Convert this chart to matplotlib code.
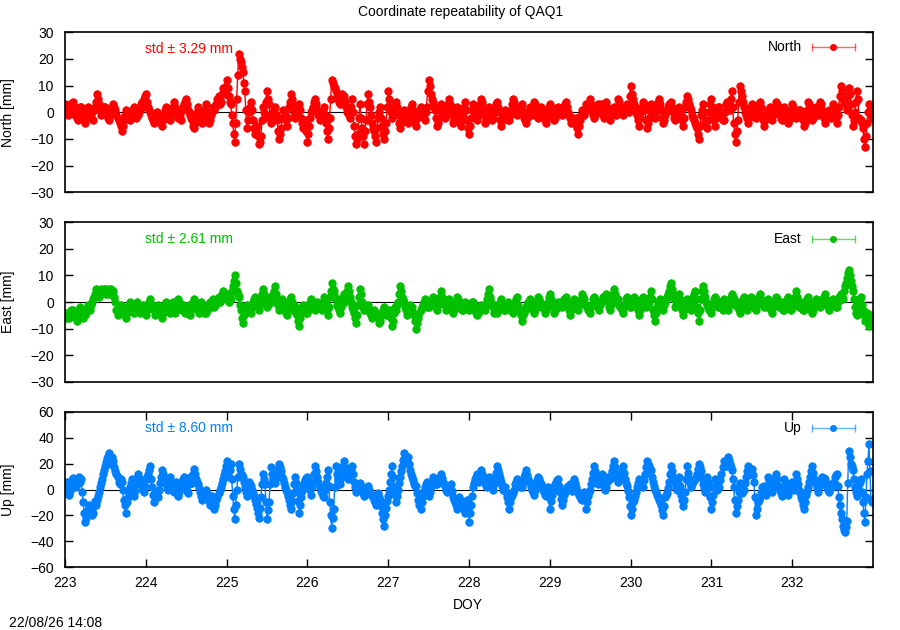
import matplotlib
matplotlib.use("Agg")
import matplotlib.pyplot as plt
import numpy as np

plt.rcParams['font.family'] = ['Liberation Sans', 'DejaVu Sans']

# coordinate residuals [mm] (one line = half a day)
# main samples every 0.025 day from DOY 223.000
north = [
    3, 0, 1, 2, 4, -1, -2, 1, 2, -2, -4, 0, 1, -1, -3, 2, 7, 3, -1, 1,
    2, -1, -3, 0, 3, 1, -2, -4, -7, -3, 1, -1, -3, 0, 2, -2, -1, 1, 4, 5,
    7, 2, 0, -2, -4, -1, -1, -3, -5, -1, 2, 0, -3, 1, 4, 0, -2, -1, 1, 3,
    5, 1, -1, -3, -6, -2, 2, 0, -4, -1, 3, -2, -3, 0, 1, 3, 6, 4, 9, 7,
    12, 6, 3, -4, -11, 5, 22, 19, 15, 8, -6, 0, 4, -3, -8, -5, -12, -9, 2, -2,
    8, 3, -4, 0, 2, -3, -10, -6, 1, -1, -5, 2, 7, 3, -2, 0, 3, -2, -6, -3,
    -11, -5, 0, 2, 5, 1, -3, -1, 2, -4, -10, -2, 12, 10, 8, 5, 3, 7, 6, 2,
    1, -2, 5, -5, -12, -8, 3, -6, -12, -3, 7, 2, -4, -7, -11, -2, 2, -5, -10, -4,
    8, 2, -2, 1, 4, -1, -6, -2, 1, -1, -4, 0, 3, -2, -5, 0, 2, -1, -3, 2,
    12, 7, 4, 1, -5, -2, 3, 0, -2, 1, 5, 2, -4, -1, 2, -2, -5, 0, 4, -3,
    -8, -2, 3, 0, -3, 1, 5, 2, -4, -1, 2, -2, -2, 1, 4, 0, -5, -1, 1, -2,
    -3, 1, 5, 2, -1, 0, 3, -2, -4, 0, 2, -1, 4, 1, -2, 0, 1, -2, -4, 0,
    3, 0, -3, -1, 2, 1, -1, 2, 4, 0, -2, -3, -4, -2, -8, -3, 1, -1, 3, 1,
    5, 1, -2, 0, 3, 2, 0, -2, 4, 1, -3, 0, 2, -1, 5, 2, -1, 1, 3, 0,
    10, 5, 2, -1, -5, 0, 4, 1, -6, -2, 3, 0, -2, 2, 5, 1, -4, -1, 1, 3,
    4, 0, -3, 1, 2, -1, -5, 2, 6, 3, 1, -2, -4, -6, -10, -1, 3, -3, -6, 0,
    5, -1, -5, 1, 2, -2, -3, 3, 4, 1, 8, -4, -11, -3, 10, 6, 2, -1, -4, 0,
    3, 0, -2, 1, 4, -1, -5, -2, 1, 2, -3, 0, 4, 1, -1, -3, 2, 0, -4, -1,
    3, 1, -2, 0, 1, -1, -5, -2, 4, 2, -3, 0, 2, -1, 4, 1, -4, -1, 1, -2,
    3, 0, -4, 2, 10, 5, 6, 1, 9, 3, -5, 0, 8, -2, -3, -6, -13, -4, 3, -1,
]
# in-between samples (0.0125 day after each main sample)
north_mid = [
    2, -1, 3, 1, 2, 0, -3, 2, 0, -3, -2, 2, -1, 0, 1, 4, 5, 1, 0, 2,
    0, -2, -1, 2, 2, -1, -3, -5, -5, -1, 0, -2, -1, 1, 0, -1, 0, 3, 2, 6,
    4, 1, -1, -3, -2, 0, -2, -4, -3, 1, 1, -2, -1, 2, 2, -1, 0, -3, 2, 4,
    3, 0, -2, -5, -4, 0, 1, -2, -3, 1, 0, -4, -1, 2, 2, 5, 3, 7, 8, 10,
    9, 4, -1, -8, -4, 14, 20, 17, 11, 1, -3, 2, 1, -6, -7, -9, -11, -3, 0, 4,
    5, -1, -2, 1, -1, -7, -8, -2, 0, -3, -2, 4, 5, 0, -1, 2, 1, -4, -5, -7,
    -8, -2, 1, 4, 3, -1, -2, 1, -1, -7, -6, 5, 11, 9, 6, 4, 5, 6, 4, 0,
    -1, 2, 0, -9, -10, -2, -2, -9, -7, 3, 4, -1, -6, -9, -6, 0, -2, -8, -7, 2,
    5, 0, -1, 3, 2, -4, -4, 0, 0, -3, -2, 2, 1, -4, -2, 1, 0, -2, 0, 8,
    10, 5, 2, -2, -4, 1, 2, -1, 0, 3, 3, -1, -3, 1, 0, -4, -2, 2, 1, -6,
    -5, 1, 2, -2, -1, 3, 4, -1, -3, 1, 0, -3, 0, 3, 2, -3, -3, 0, -1, -3,
    -1, 3, 4, 0, 1, 2, 0, -3, -2, 1, 0, 2, 3, -1, -1, 2, -1, -3, -2, 2,
    2, -2, -2, 1, 0, 0, 1, 3, 2, -1, -4, -2, -3, -6, -5, -1, 0, 1, 2, 3,
    3, -1, -1, 2, 1, 3, -1, 1, 2, -2, -1, 1, 0, 2, 4, 0, 0, 2, 1, 6,
    7, 3, 0, -3, -2, 2, 3, -3, -4, 1, 2, -1, 0, 4, 3, -2, -3, 0, 2, 2,
    2, -2, -1, 0, 1, -3, -2, 4, 5, 2, -1, -3, -5, -8, -5, 1, 0, -5, -3, 3,
    2, -3, -2, 2, 0, -3, 0, 4, 2, 5, 2, -8, -7, 4, 8, 4, 0, -2, -2, 2,
    1, -1, 0, 3, 2, -3, -3, 0, 1, -1, -1, 2, 3, 0, -2, 0, 1, -2, -3, 1,
    2, -1, -1, 1, 0, -3, -4, 1, 3, 0, -2, 1, 0, 2, 3, -2, -2, 0, -1, 1,
    1, -2, -1, 6, 8, 4, 3, 6, 7, -1, -3, 4, 5, -3, -4, -10, -9, 0, 1, -2,
]
east = [
    -4, -5, -6, -3, -3, -5, -7, -4, -3, -6, -5, -3, -2, -1, 1, 3, 4, 2, 5, 4,
    5, 4, 3, 5, 4, 0, -5, -3, -2, -4, -6, -2, 0, -3, -4, -1, -1, -4, -3, -2,
    -5, -2, 1, -1, -3, -4, -1, -2, -6, -3, 0, -2, -4, -1, -2, -3, 1, -1, -3, -2,
    -2, -3, -5, -2, 1, -1, -3, -2, -1, -4, -4, -2, 0, -1, -2, 0, 2, 1, 4, 2,
    3, 0, 1, 6, 10, 4, 2, -3, -8, -4, -1, -2, -4, 0, 2, -1, -3, 1, 5, 2,
    -2, 0, 1, 3, 6, 1, -3, -1, 0, -2, -5, -1, 2, -3, -2, -5, -9, -3, -1, -2,
    -4, -2, 1, -1, -3, 0, -1, -3, 2, 0, -5, 2, 7, 4, 1, -2, -4, 0, 3, 1,
    6, 2, -2, -4, -8, -1, 5, 0, -3, -2, -1, -4, -6, -3, -4, -6, -7, -4, -2, -5,
    -5, -3, -9, -4, -3, 0, 6, 2, 0, -3, -4, -1, -2, -5, -10, -6, -3, -1, 1, -2,
    -2, 0, 2, -1, -3, 1, 4, 1, -1, -2, 1, -1, -4, -2, 2, 0, -2, -3, 0, -1,
    -3, -1, 0, -2, -5, -3, -1, -2, -3, 1, 5, 0, -2, -3, -4, -1, 1, -2, -3, -1,
    -1, -2, -4, 0, 2, -3, -7, -4, -2, 0, 1, -1, -4, -2, 2, 0, -1, -2, -3, 0,
    3, 0, -4, -2, 0, -1, -2, 1, 2, -1, -5, -2, 1, -1, -3, 0, 3, 1, -1, -3,
    -4, -1, 2, 0, -2, -1, 0, 1, 3, 0, -3, 2, 5, 1, 1, -2, -4, -1, 2, 0,
    -2, 0, 1, -2, -5, -1, 2, 0, -1, 1, 4, -3, -7, -2, 0, -1, -3, 0, 2, 4,
    7, 3, -2, 0, 3, -1, -5, -2, 1, 0, -3, 2, 4, -2, -7, 1, 6, 2, -1, -3,
    -4, -1, 2, 0, -2, -1, 1, -2, -3, 0, 3, 1, -1, -2, -4, 0, 2, -1, -2, 1,
    0, -1, -3, 1, 3, 0, -2, -1, 1, -2, -4, -1, 2, 0, -1, -2, -3, 0, 2, -1,
    -2, 1, 4, 0, -1, -2, -3, 0, 2, -1, -4, -2, 1, 0, -2, 1, 3, -1, -3, 0,
    1, -1, -2, 2, 3, 1, 6, 9, 12, 8, 4, -2, -5, 0, 2, -3, -7, -4, -9, -5,
]
east_mid = [
    -6, -4, -4, -5, -4, -6, -5, -2, -5, -4, -4, -1, -3, 0, 2, 5, 3, 4, 3, 5,
    3, 5, 4, 3, 2, -3, -4, -1, -3, -5, -4, -1, -2, -1, -3, 0, -3, -2, -1, -4,
    -3, 0, -2, -2, -5, -2, -3, -4, -4, -1, -1, -3, -2, 0, -4, -1, 0, -2, -1, -4,
    -4, -1, -3, 0, -1, -2, -4, 0, -3, -2, -3, -1, -2, 1, -1, 1, 0, 3, 3, 1,
    1, 2, 4, 8, 7, 3, -1, -6, -5, -2, -3, -3, -2, 1, 0, -2, -1, 3, 3, 0,
    -1, 2, 0, 4, 3, -1, -2, 1, -3, -4, -3, 1, 0, -1, -4, -7, -6, -2, -3, -4,
    -3, 0, 0, -2, -1, -2, -2, 0, 1, -3, -2, 4, 5, 2, -1, -3, -2, 2, 0, 4,
    4, 0, -3, -6, -5, 2, 3, -2, -1, -3, -3, -5, -4, -5, -5, -8, -5, -3, -4, -3,
    -4, -6, -7, -2, -1, 3, 4, 1, -2, -5, -2, -3, -4, -7, -8, -4, -2, 0, -1, -1,
    -1, 1, 0, -2, -1, 2, 2, 0, -3, 0, 0, -3, -3, 0, 1, -1, -3, -1, -2, -2,
    -2, 0, -1, -4, -4, -2, -3, -1, -1, 3, 2, -1, -4, -2, -2, 0, -1, -3, -2, 0,
    -3, -3, -2, 1, -1, -5, -5, -3, -1, -2, 0, -3, -3, 0, 1, -2, -1, -4, -1, 2,
    1, -2, -3, -1, -2, 0, -1, 0, 0, -3, -3, -1, 0, -2, -1, 1, 2, -1, -2, -2,
    -2, 1, 1, -1, -3, 0, 2, 2, 1, -2, -1, 3, 3, 0, -1, -3, -2, 1, 0, -2,
    -1, 2, -1, -3, -3, 1, 0, -2, 0, 2, 1, -5, -4, -1, 1, -2, -1, 1, 3, 6,
    5, 1, -1, 2, 1, -3, -3, 0, -1, -2, 0, 3, 1, -4, -3, 4, 4, 0, -2, -1,
    -2, 1, 1, -2, 0, -3, 0, -1, -1, 2, 2, -1, 0, -3, -2, 1, 0, -3, 0, 2,
    -2, -2, -1, 2, 1, -1, 0, -2, 0, -3, -2, 0, 1, -2, 0, -3, -1, 1, 0, -3,
    0, 2, 2, -2, 0, -3, -1, 1, 0, -3, -3, 0, -1, -1, 0, 2, 1, -2, -1, 0,
    0, -2, 0, 1, 2, 4, 7, 11, 10, 6, 1, -4, -2, 1, -1, -5, -5, -6, -7, -6,
]
up = [
    2, 6, -4, 3, 9, 2, 5, 10, 8, -10, -25, -20, -12, -16, -18, -9, -8, -2, 5, 12,
    18, 24, 28, 20, 22, 14, 10, 4, 6, -8, -18, -6, 2, 8, -5, 4, 12, 6, 3, -2,
    8, 12, 18, 2, -10, -2, -6, 5, 15, 8, 5, 0, 10, 3, -2, 6, -5, 1, 6, 10,
    2, -3, 10, 5, 16, 8, 4, -2, -8, -4, 0, -6, -12, -5, -15, -8, -3, 2, 8, 14,
    22, 10, 20, -5, -23, 0, 20, 12, 10, 2, -5, 6, 3, -3, -8, -14, -22, -6, 12, 4,
    -23, -10, 17, 8, 5, 12, 20, 14, 8, 2, -2, -8, -15, -3, 10, 0, -18, -6, 3, 7,
    10, 4, -4, 6, 18, 10, 2, -3, -6, 5, 15, -10, -30, -15, 18, 8, 4, 14, 22, 12,
    8, 14, 18, 6, -2, 2, 5, -1, -5, 0, 3, -3, -4, -8, -12, -3, -8, -18, -28, -14,
    -5, 6, 18, 2, -10, 0, 10, 18, 28, 22, 25, 15, 10, 4, 3, -8, -15, -5, 2, 6,
    -5, 2, 10, 5, 4, 8, 12, 6, 3, -2, 0, 4, -6, -10, -15, -6, -10, -14, -18, -8,
    -25, -12, 2, 8, 12, 6, 15, 10, 5, 2, 10, 4, 0, 8, 18, 12, 6, 0, 2, -6,
    -15, -6, -3, 4, 8, 3, 2, 10, 15, 8, 5, 0, -4, 4, 10, 6, 3, -2, -5, 2,
    -15, -4, 2, 6, 8, -2, -12, -4, 0, 3, 4, -1, 8, 2, -3, -6, -8, -2, -15, -5,
    0, 8, 18, 10, 4, 6, 12, 2, 2, 10, 8, 14, 22, 12, 6, 10, 18, 8, 3, -6,
    -20, -10, -5, 2, 8, 4, 2, 12, 22, 18, 15, 6, 0, -4, -8, -12, -20, -6, -3, 6,
    18, 10, 5, 0, 10, -4, -13, -2, 18, 8, 2, 6, 8, 12, 20, 14, 4, -2, 10, 2,
    -15, -4, 8, 0, 2, 12, 22, 18, 25, 20, 15, 2, -18, -8, 5, -3, 0, 10, 18, 12,
    16, 6, -20, -10, -6, 2, 3, -4, 10, 4, -2, 6, 12, 3, 0, -5, 8, 2, -4, 4,
    6, 0, 12, 4, -3, -8, -15, -4, 2, 10, 18, 8, 4, -2, 5, 10, 8, 2, -2, 4,
    3, 10, 12, -6, -18, -28, -33, -24, 30, 20, 15, 2, -5, 4, 8, -10, -25, 12, 35, -8,
]
up_mid = [
    4, 0, -1, 7, 5, 3, 8, 6, -2, -18, -22, -15, -14, -20, -13, -12, -5, 2, 8, 15,
    21, 26, 24, 25, 17, 12, 6, 8, 0, -12, -10, -2, 5, 2, -1, 8, 9, 4, 0, 3,
    10, 15, 8, -4, -6, -4, 0, 10, 12, 6, 2, 5, 6, 0, 2, 0, -2, 4, 8, 6,
    -1, 4, 8, 12, 12, 6, 1, -5, -6, -2, -3, -9, -8, -10, -12, -6, 0, 5, 11, 18,
    16, 15, 8, -15, -12, 10, 16, 11, 6, -2, 0, 4, 0, -5, -11, -18, -14, 4, 8, -10,
    -16, 4, 12, 6, 9, 16, 17, 10, 5, 0, -5, -12, -9, 4, 5, -9, -12, -1, 5, 9,
    7, 0, 2, 12, 14, 6, -1, -5, 0, 10, 3, -20, -22, 2, 12, 6, 9, 18, 17, 10,
    11, 16, 12, 2, 0, 4, 2, -3, -2, 2, 0, -4, -6, -10, -8, -6, -13, -23, -20, -9,
    0, 12, 10, -4, -5, 5, 14, 23, 25, 24, 20, 12, 7, 3, -3, -12, -10, -1, 4, 0,
    -2, 6, 8, 4, 6, 10, 9, 4, 0, -1, 2, -1, -8, -12, -10, -8, -12, -16, -13, -16,
    -18, -5, 5, 10, 9, 10, 12, 8, 3, 6, 7, 2, 4, 13, 15, 9, 3, 1, -2, -10,
    -10, -4, 0, 6, 5, 2, 6, 12, 11, 6, 2, -2, 0, 7, 8, 4, 0, -4, -1, -6,
    -9, -1, 4, 7, 3, -7, -8, -2, 2, 3, 1, 3, 5, -1, -4, -7, -5, -8, -10, -2,
    4, 13, 14, 7, 5, 9, 7, 0, 6, 9, 11, 18, 17, 9, 8, 14, 13, 5, -1, -13,
    -15, -8, -2, 5, 6, 3, 7, 17, 20, 16, 10, 3, -2, -6, -10, -16, -13, -4, 1, 12,
    14, 8, 2, 5, 3, -8, -8, 8, 13, 5, 4, 7, 10, 16, 17, 9, 1, 4, 6, -6,
    -10, 2, 4, 1, 7, 17, 20, 22, 23, 17, 8, -8, -13, -2, 1, -1, 5, 14, 15, 14,
    11, -6, -15, -8, -2, 2, 0, 3, 7, 1, 2, 9, 8, 1, -3, 2, 5, -1, 0, 5,
    3, 6, 8, 0, -6, -12, -10, -1, 6, 14, 13, 6, 1, 2, 8, 9, 5, 0, 1, 2,
    6, 11, 3, -12, -23, -31, -29, 5, 25, 18, 8, -2, 0, 6, -2, -18, -6, 22, 14, -10,
]
sigma = [1.5, 1.5, 3.0]

components = ["North", "East", "Up"]
series = [(north, north_mid), (east, east_mid), (up, up_mid)]
std_text = ["3.29", "2.61", "8.60"]
colors = ["#ff0000", "#00c000", "#0080ff"]
ylims = [(-30, 30), (-30, 30), (-60, 60)]
ystep = [10, 10, 20]

# epochs: DOY 223.0000 .. 232.9875, one solution every 0.0125 day
doy = 223.0 + 0.0125 * np.arange(800)

fig = plt.figure(figsize=(9, 6.3), dpi=100)
boxes = [
    [0.0722, 0.6948, 0.8978, 0.2540],
    [0.0722, 0.3937, 0.8978, 0.2535],
    [0.0722, 0.0995, 0.8978, 0.2470],
]

for k in range(3):
    ax = fig.add_axes(boxes[k])
    c = colors[k]
    main, mid = series[k]
    vals = np.column_stack([main, mid]).ravel()
    ax.axhline(0, color="black", lw=0.8, zorder=1)
    ax.errorbar(doy, vals, yerr=sigma[k], color=c, ecolor=c,
                lw=1.0, elinewidth=0.9, capsize=1.5, marker="o",
                markersize=6, markeredgewidth=0, zorder=2)
    ax.set_xlim(223, 233)
    ax.set_ylim(*ylims[k])
    lo, hi = ylims[k]
    ax.set_yticks(np.arange(lo, hi + 1, ystep[k]))
    ax.set_xticks(np.arange(223, 233))
    ax.tick_params(axis="y", direction="in", length=5.5, width=1,
                   right=True, labelsize=10, pad=8)
    if k < 2:
        ax.tick_params(axis="x", length=0, labelbottom=False)
    else:
        ax.tick_params(axis="x", direction="in", length=5.5, width=1,
                       top=True, labelsize=10, pad=6)
    for s in ax.spines.values():
        s.set_linewidth(1.2)
    ax.set_ylabel(components[k] + " [mm]", fontsize=10)
    ax.yaxis.set_label_coords(-0.062, 0.5)

    # std annotation
    ax.text(0.099, 0.893, "std \u00b1 " + std_text[k] + " mm", color=c,
            fontsize=10, transform=ax.transAxes, va="center", ha="left")

    # key, gnuplot style
    ky = [0.906, 0.897, 0.895][k]
    ax.text(0.912, ky, components[k], fontsize=10, transform=ax.transAxes,
            va="center", ha="right")
    ax.plot([0.9245, 0.9777], [ky, ky], color=c, alpha=0.6, lw=1,
            transform=ax.transAxes, clip_on=False)
    ax.plot([0.9245, 0.9777], [ky, ky], color=c, alpha=0.6, lw=0,
            marker="|", markersize=6, transform=ax.transAxes, clip_on=False)
    ax.plot([0.951], [ky], color=c, marker="o", markersize=4,
            transform=ax.transAxes, clip_on=False)

fig.text(0.512, 1 - 11.7 / 630, "Coordinate repeatability of QAQ1",
         ha="center", va="center", fontsize=10)
fig.text(0.52, 1 - 605 / 630, "DOY", ha="center", va="center", fontsize=10)
fig.text(0.0103, 1 - 622.7 / 630, "22/08/26 14:08", ha="left", va="center",
         fontsize=10)

fig.savefig("out.png", dpi=100)
